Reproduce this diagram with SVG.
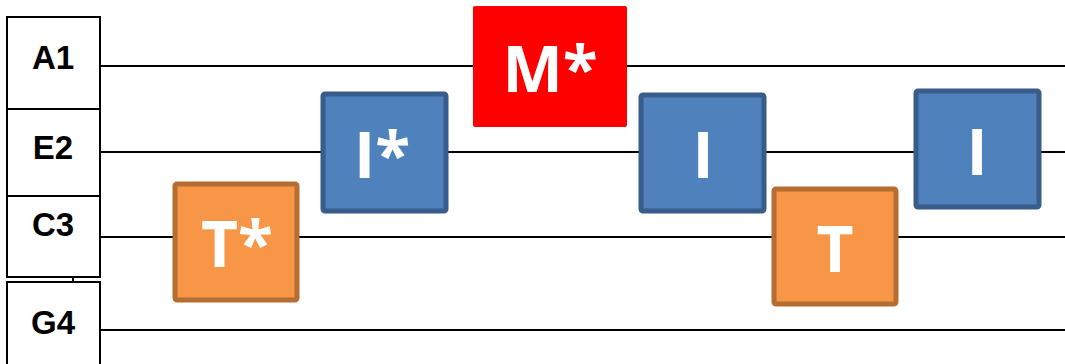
<svg xmlns="http://www.w3.org/2000/svg" width="1065" height="364" viewBox="0 0 1065 364">
<style>
.lbl{fill:#fff;stroke:#000;stroke-width:2}
.lt{font-family:"Liberation Sans",Arial,sans-serif;font-weight:bold;font-size:33px;fill:#000;text-anchor:middle}
.wire{stroke:#000;stroke-width:2;fill:none}
.blue{fill:#4F81BD;stroke:#385D8A;stroke-width:5}
.orange{fill:#F79646;stroke:#B66D31;stroke-width:5}
.red{fill:#FF0000}
.gt{font-family:"Open Sans","Liberation Sans",Arial,sans-serif;font-weight:bold;font-size:64px;fill:#fff;text-anchor:middle}
</style>
<rect width="1065" height="364" fill="#fff"/>
<g id="connectors">
<line class="wire" x1="100" y1="66" x2="1065" y2="66"/>
<line class="wire" x1="100" y1="152" x2="1065" y2="152"/>
<line class="wire" x1="100" y1="237" x2="1065" y2="237"/>
<line class="wire" x1="100" y1="330" x2="1065" y2="330"/>
<line class="wire" x1="73" y1="277" x2="73" y2="282"/>
</g>
<g id="A1"><rect class="lbl" x="7" y="17" width="93" height="92"/><text class="lt" x="53" y="69">A1</text></g>
<g id="E2"><rect class="lbl" x="7" y="109" width="93" height="87"/><text class="lt" x="53" y="159">E2</text></g>
<g id="C3"><rect class="lbl" x="7" y="196" width="93" height="81"/><text class="lt" x="53" y="236">C3</text></g>
<g id="G4"><rect class="lbl" x="7" y="282" width="93" height="90"/><text class="lt" x="53" y="334">G4</text></g>
<g id="Tstar"><rect class="orange" x="175" y="184" width="122" height="116" rx="2"/><text class="gt" x="237" y="267">T*</text></g>
<g id="Istar"><rect class="blue" x="323" y="94" width="123" height="117" rx="2"/><text class="gt" x="382" y="178">I*</text></g>
<g id="Mstar"><rect class="red" x="473" y="6" width="154" height="121" rx="2"/><text class="gt" x="550" y="92">M*</text></g>
<g id="I1"><rect class="blue" x="641" y="95" width="123" height="116" rx="2"/><text class="gt" x="703" y="178">I</text></g>
<g id="T1"><rect class="orange" x="774" y="189" width="122" height="115" rx="2"/><text class="gt" x="835" y="272">T</text></g>
<g id="I2"><rect class="blue" x="916" y="91" width="123" height="116" rx="2"/><text class="gt" x="977" y="175">I</text></g>
</svg>
